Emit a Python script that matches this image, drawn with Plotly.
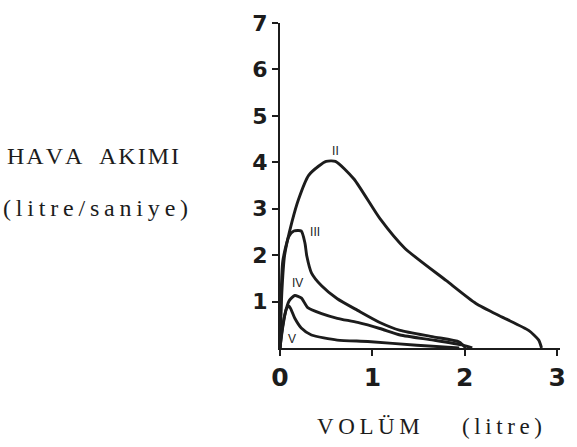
import plotly.graph_objects as go

# Flow-volume curves (volume in litres, flow in litres/second)
vol_II = [0.0, 0.02, 0.05, 0.13, 0.2, 0.31, 0.42, 0.5, 0.6, 0.8, 1.08, 1.35, 1.80, 2.12, 2.41, 2.69, 2.80, 2.83]
flow_II = [0.0, 1.2, 2.0, 2.72, 3.2, 3.72, 3.92, 4.02, 4.02, 3.64, 2.79, 2.15, 1.45, 0.96, 0.66, 0.38, 0.17, 0.0]

vol_III = [0.0, 0.01, 0.03, 0.095, 0.15, 0.23, 0.27, 0.29, 0.34, 0.45, 0.62, 0.84, 1.08, 1.30, 1.66, 1.94, 2.01]
flow_III = [0.0, 1.0, 1.87, 2.4, 2.52, 2.52, 2.26, 1.98, 1.62, 1.34, 1.06, 0.81, 0.55, 0.38, 0.24, 0.13, 0.0]

vol_IV = [0.0, 0.02, 0.05, 0.1, 0.16, 0.23, 0.3, 0.45, 0.62, 0.84, 1.08, 1.30, 1.66, 1.98, 2.08]
flow_IV = [0.0, 0.35, 0.7, 1.02, 1.13, 1.08, 0.87, 0.74, 0.64, 0.55, 0.42, 0.28, 0.17, 0.06, 0.0]

vol_V = [0.0, 0.03, 0.07, 0.1, 0.16, 0.23, 0.34, 0.62, 0.95, 1.48, 1.94]
flow_V = [0.0, 0.45, 0.85, 0.9, 0.64, 0.43, 0.28, 0.17, 0.14, 0.06, 0.0]

curve_names = ["II", "III", "IV", "V"]
label_x = [0.6, 0.38, 0.19, 0.13]
label_y = [4.23, 2.47, 1.38, 0.17]

x_ticks = [0, 1, 2, 3]
y_ticks = [1, 2, 3, 4, 5, 6, 7]

ink = "#1c1c1c"
THIN = "\u2009"
HAIR = "\u200a"


def spaced(text, gap=THIN, word_gap="\u2002 "):
    """Letter-space a string for the typewriter-style axis captions."""
    words = text.split(" ")
    return word_gap.join(gap.join(w) for w in words)


fig = go.Figure()
for xs, ys in [(vol_II, flow_II), (vol_III, flow_III), (vol_IV, flow_IV), (vol_V, flow_V)]:
    fig.add_trace(go.Scatter(
        x=xs, y=ys, mode="lines",
        line=dict(color=ink, width=2.9, shape="spline", smoothing=0.6),
        showlegend=False, hoverinfo="skip",
    ))

fig.add_trace(go.Scatter(
    x=label_x, y=label_y, mode="text", text=curve_names,
    textfont=dict(family="Liberation Sans", size=12, color=ink),
    showlegend=False, hoverinfo="skip",
))

L, R, T, B = 280, 11, 18, 99
PW, PH = 577 - L - R, 447 - T - B


def px(x):
    return (x - L) / PW


def py(y):
    return (447 - B - y) / PH


serif = "Liberation Serif"
fig.update_layout(
    width=577, height=447,
    margin=dict(l=L, r=R, t=T, b=B),
    paper_bgcolor="white", plot_bgcolor="white",
    xaxis=dict(
        range=[0, 3.03], tickvals=x_ticks, ticktext=[str(v) for v in x_ticks],
        showgrid=False, zeroline=False, showline=True, linecolor=ink, linewidth=2,
        ticks="outside", ticklen=6, tickwidth=2, tickcolor=ink,
        tickfont=dict(family="DejaVu Sans", size=25, color=ink, weight="bold"),
    ),
    yaxis=dict(
        range=[0, 7.0], tickvals=y_ticks, ticktext=[str(v) for v in y_ticks],
        showgrid=False, zeroline=False, showline=True, linecolor=ink, linewidth=2,
        ticks="outside", ticklen=6, tickwidth=2, tickcolor=ink,
        tickfont=dict(family="DejaVu Sans", size=22, color=ink, weight="bold"),
    ),
    annotations=[
        dict(text=spaced("HAVA AKIMI", gap=HAIR), xref="paper", yref="paper",
             x=px(-1), y=py(153), xanchor="left", yanchor="middle",
             showarrow=False, font=dict(family=serif, size=24, color=ink)),
        dict(text=spaced("(litre/saniye)", gap=THIN), xref="paper", yref="paper",
             x=px(-5), y=py(206), xanchor="left", yanchor="middle",
             showarrow=False, font=dict(family=serif, size=24, color=ink)),
        dict(text=spaced("VOLÜM", gap=THIN), xref="paper", yref="paper",
             x=px(316), y=py(428), xanchor="left", yanchor="middle",
             showarrow=False, font=dict(family=serif, size=23, color=ink)),
        dict(text=spaced("(litre)", gap=THIN), xref="paper", yref="paper",
             x=px(464), y=py(428), xanchor="left", yanchor="middle",
             showarrow=False, font=dict(family=serif, size=23, color=ink)),
    ],
)

fig.write_html("out.html")
